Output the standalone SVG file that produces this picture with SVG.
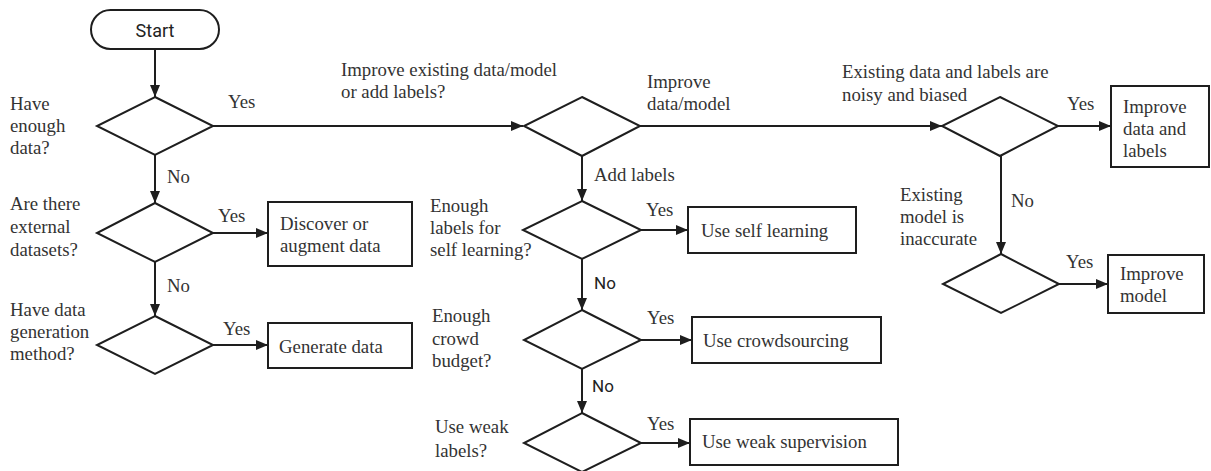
<svg xmlns="http://www.w3.org/2000/svg" width="1211" height="471" viewBox="0 0 1211 471">
  <defs>
    <marker id="arrow" markerUnits="userSpaceOnUse" markerWidth="13" markerHeight="11" refX="12" refY="5" orient="auto">
      <path d="M0,0 L12,5 L0,10 Z" fill="#1e1e1e"/>
    </marker>
    <style>
      .shape { fill: #fff; stroke: #1e1e1e; stroke-width: 2; }
      .conn { fill: none; stroke: #1e1e1e; stroke-width: 2; marker-end: url(#arrow); }
      .t { font-family: "Liberation Serif", "Times New Roman", serif; font-size: 18.8px; fill: #333; }
      .s { font-family: Roboto, "Liberation Sans", Arial, sans-serif; fill: #222; }
    </style>
  </defs>
  <rect width="1211" height="471" fill="#fff"/>

  <!-- connectors -->
  <g id="connectors">
    <line class="conn" x1="155" y1="49" x2="155" y2="97"/>
    <line class="conn" x1="213" y1="126" x2="523" y2="126"/>
    <line class="conn" x1="155" y1="155" x2="155" y2="203"/>
    <line class="conn" x1="213" y1="233" x2="268" y2="233"/>
    <line class="conn" x1="155" y1="262" x2="155" y2="316"/>
    <line class="conn" x1="213" y1="345" x2="268" y2="345"/>
    <line class="conn" x1="639" y1="126" x2="942" y2="126"/>
    <line class="conn" x1="582" y1="156" x2="582" y2="201"/>
    <line class="conn" x1="641" y1="230" x2="688" y2="230"/>
    <line class="conn" x1="582" y1="259" x2="582" y2="310"/>
    <line class="conn" x1="641" y1="340" x2="692" y2="340"/>
    <line class="conn" x1="582" y1="369" x2="582" y2="413"/>
    <line class="conn" x1="641" y1="443" x2="690" y2="443"/>
    <line class="conn" x1="1058" y1="126" x2="1111" y2="126"/>
    <line class="conn" x1="1001" y1="156" x2="1001" y2="254"/>
    <line class="conn" x1="1059" y1="284" x2="1108" y2="284"/>

    <text class="t" x="228" y="108">Yes</text>
    <text class="t" x="167" y="183">No</text>
    <text class="t" x="218" y="222">Yes</text>
    <text class="t" x="167" y="292">No</text>
    <text class="t" x="223" y="335">Yes</text>
    <text class="t" x="594" y="181">Add labels</text>
    <text class="t" x="646" y="216">Yes</text>
    <text class="s" x="594" y="289" font-size="17">No</text>
    <text class="t" x="647" y="324">Yes</text>
    <text class="s" x="592" y="392" font-size="17">No</text>
    <text class="t" x="647" y="430">Yes</text>
    <text class="t" x="1067" y="110">Yes</text>
    <text class="t" x="1011" y="207">No</text>
    <text class="t" x="1066" y="268">Yes</text>
  </g>

  <!-- start -->
  <g id="start">
    <rect class="shape" x="91" y="10" width="128" height="39" rx="19.5"/>
    <text class="s" x="155" y="37" font-size="18" text-anchor="middle">Start</text>
  </g>

  <!-- left column -->
  <g id="enough-data">
    <polygon class="shape" points="155,97 213,126 155,155 97,126"/>
    <text class="t" x="10" y="110">Have</text>
    <text class="t" x="10" y="132">enough</text>
    <text class="t" x="10" y="154">data?</text>
  </g>
  <g id="external-datasets">
    <polygon class="shape" points="155,203 213,233 155,262 97,233"/>
    <text class="t" x="10" y="210">Are there</text>
    <text class="t" x="10" y="233">external</text>
    <text class="t" x="10" y="256">datasets?</text>
  </g>
  <g id="discover">
    <rect class="shape" x="268" y="202" width="144" height="64"/>
    <text class="t" x="280" y="230">Discover or</text>
    <text class="t" x="280" y="252">augment data</text>
  </g>
  <g id="generation-method">
    <polygon class="shape" points="155,316 213,345 155,374 97,345"/>
    <text class="t" x="10" y="316">Have data</text>
    <text class="t" x="10" y="338">generation</text>
    <text class="t" x="10" y="360">method?</text>
  </g>
  <g id="generate">
    <rect class="shape" x="268" y="323" width="144" height="45"/>
    <text class="t" x="279" y="353">Generate data</text>
  </g>

  <!-- middle column -->
  <g id="improve-or-label">
    <polygon class="shape" points="582,97 640,126 582,156 524,126"/>
    <text class="t" x="341" y="76">Improve existing data/model</text>
    <text class="t" x="341" y="98">or add labels?</text>
    <text class="t" x="647" y="88">Improve</text>
    <text class="t" x="647" y="110">data/model</text>
  </g>
  <g id="self-learning-check">
    <polygon class="shape" points="582,201 641,230 582,259 523,230"/>
    <text class="t" x="430" y="212">Enough</text>
    <text class="t" x="430" y="234">labels for</text>
    <text class="t" x="430" y="256">self learning?</text>
  </g>
  <g id="self-learning">
    <rect class="shape" x="688" y="207" width="168" height="46"/>
    <text class="t" x="701" y="237">Use self learning</text>
  </g>
  <g id="crowd-budget">
    <polygon class="shape" points="582,310 641,340 582,369 524,340"/>
    <text class="t" x="432" y="322">Enough</text>
    <text class="t" x="432" y="345">crowd</text>
    <text class="t" x="432" y="367">budget?</text>
  </g>
  <g id="crowdsourcing">
    <rect class="shape" x="692" y="317" width="189" height="46"/>
    <text class="t" x="703" y="347">Use crowdsourcing</text>
  </g>
  <g id="weak-labels">
    <polygon class="shape" points="582,413 641,443 582,472 524,443"/>
    <text class="t" x="435" y="433">Use weak</text>
    <text class="t" x="435" y="457">labels?</text>
  </g>
  <g id="weak-supervision">
    <rect class="shape" x="690" y="419" width="208" height="46"/>
    <text class="t" x="702" y="448">Use weak supervision</text>
  </g>

  <!-- right column -->
  <g id="noisy-biased">
    <polygon class="shape" points="1000,97 1058,126 1000,156 942,126"/>
    <text class="t" x="842" y="78">Existing data and labels are</text>
    <text class="t" x="842" y="101">noisy and biased</text>
  </g>
  <g id="improve-data-labels">
    <rect class="shape" x="1111" y="86" width="98" height="81"/>
    <text class="t" x="1123" y="113">Improve</text>
    <text class="t" x="1123" y="135">data and</text>
    <text class="t" x="1123" y="157">labels</text>
  </g>
  <g id="model-inaccurate">
    <polygon class="shape" points="1001,254 1059,284 1001,313 943,284"/>
    <text class="t" x="900" y="201">Existing</text>
    <text class="t" x="900" y="223">model is</text>
    <text class="t" x="900" y="245">inaccurate</text>
  </g>
  <g id="improve-model">
    <rect class="shape" x="1108" y="255" width="96" height="58"/>
    <text class="t" x="1120" y="280">Improve</text>
    <text class="t" x="1120" y="302">model</text>
  </g>
</svg>
